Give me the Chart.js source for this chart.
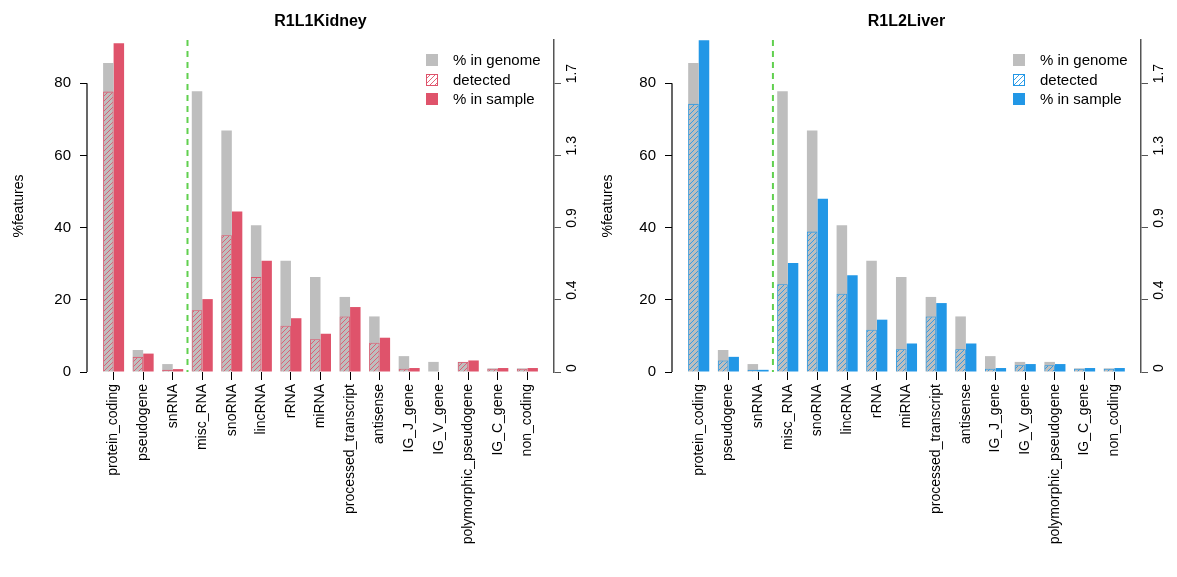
<!DOCTYPE html>
<html><head><meta charset="utf-8">
<script src="https://cdn.jsdelivr.net/npm/chart.js@4"></script>
<style>body{margin:0;background:#fff;width:1177px;height:577px;position:relative;overflow:hidden}
.p{position:absolute;top:0;height:577px}</style></head>
<body>
<div class="p" style="left:0;width:589px"><canvas id="c1" width="589" height="577"></canvas></div>
<div class="p" style="left:589px;width:588px"><canvas id="c2" width="588" height="577"></canvas></div>
<script>
const categories = ["protein_coding","pseudogene","snRNA","misc_RNA","snoRNA","lincRNA","rRNA","miRNA","processed_transcript","antisense","IG_J_gene","IG_V_gene","polymorphic_pseudogene","IG_C_gene","non_coding"];
const genomePct = [85.6,6.1,2.2,77.8,66.9,40.7,30.8,26.3,20.8,15.4,4.4,2.8,2.8,1.0,1.0];
const kidneyDetected = [77.7,4.2,0.6,17.1,37.9,26.3,12.8,9.1,15.4,8.1,0.9,0,2.8,0.9,0.9];
const kidneySample = [91.1,5.1,0.8,20.2,44.5,30.8,14.9,10.6,18.0,9.5,1.1,0,3.2,1.1,1.1];
const liverDetected = [74.3,3.2,0.6,24.3,38.9,21.7,11.7,6.3,15.4,6.3,0.9,1.9,1.9,0.9,0.9];
const liverSample = [91.9,4.2,0.6,30.2,48.0,26.8,14.5,7.9,19.1,7.9,1.1,2.2,2.2,1.1,1.1];
const leftTicks = [0,20,40,60,80];
const rightTickLabels = ["0","0.4","0.9","1.3","1.7"];
const legendLabels = ["% in genome","detected","% in sample"];

const FONT = "'Liberation Sans', Arial, sans-serif";
function hatch(color){
  const c=document.createElement('canvas');c.width=5;c.height=5;
  const g=c.getContext('2d');g.strokeStyle=color;g.lineWidth=0.9;
  g.beginPath();g.moveTo(-1,6);g.lineTo(6,-1);g.moveTo(-1,1);g.lineTo(1,-1);g.moveTo(4,6);g.lineTo(6,4);g.stroke();
  return g.createPattern(c,'repeat');
}
const pts = arr => arr.map((v,i)=>({x:i,y:v}));

function make(id,title,det,samp,color,leftW,rightW){
  const pat=hatch(color);
  const ctx=document.getElementById(id);
  new Chart(ctx,{
    type:'bar',
    data:{datasets:[
      {label:legendLabels[0],data:pts(genomePct),backgroundColor:'#BEBEBE',stack:'g',order:1,borderWidth:0},
      {label:legendLabels[1],data:pts(det),backgroundColor:pat,borderColor:color,borderWidth:0.8,stack:'g',order:0},
      {label:legendLabels[2],data:pts(samp),backgroundColor:color,stack:'s',order:2,borderWidth:0}
    ]},
    options:{
      responsive:false,animation:false,devicePixelRatio:1,
      layout:{padding:{top:40,left:0,right:0,bottom:0}},
      categoryPercentage:0.71,barPercentage:1,
      plugins:{legend:{display:false},title:{display:false},tooltip:{enabled:false}},
      scales:{
        x:{type:'linear',min:-0.9,max:14.9,offset:false,
          afterBuildTicks:s=>{s.ticks=categories.map((c,i)=>({value:i}));},
          afterFit:s=>{s.height=205;},
          grid:{display:true,offset:false,drawOnChartArea:false,drawTicks:true,tickLength:8,color:'#000'},
          border:{display:false},
          ticks:{minRotation:90,maxRotation:90,autoSkip:false,color:'#000',font:{family:FONT,size:14},padding:4,
            callback:v=>categories[v]}},
        y:{position:'left',min:0,max:92,stacked:false,
          afterBuildTicks:s=>{s.ticks=leftTicks.map(v=>({value:v}));},
          afterFit:s=>{s.width=leftW;},
          grid:{display:true,drawOnChartArea:false,tickLength:7,color:'#000'},
          border:{display:false},
          title:{display:true,text:'%features',color:'#000',font:{family:FONT,size:14},padding:{top:11,bottom:0}},
          ticks:{color:'#000',font:{family:FONT,size:15},padding:9}},
        y2:{position:'right',min:0,max:92,
          afterBuildTicks:s=>{s.ticks=leftTicks.map(v=>({value:v}));},
          afterFit:s=>{s.width=rightW;},
          grid:{display:true,drawOnChartArea:false,tickLength:7,color:'#555'},
          border:{display:true,color:'#555',width:1.5},
          ticks:{color:'#000',font:{family:FONT,size:14},padding:11,minRotation:90,maxRotation:90,
            callback:(v,i)=>rightTickLabels[i]}}
      }
    },
    plugins:[{
      id:'extras',
      afterDatasetsDraw(ch){
        const c=ch.ctx,a=ch.chartArea,x=ch.scales.x,y=ch.scales.y;
        c.save();
        c.strokeStyle='#000';c.lineWidth=1.2;c.beginPath();
        c.moveTo(a.left,y.getPixelForValue(0));c.lineTo(a.left,y.getPixelForValue(80));c.stroke();
        c.strokeStyle='#61D04F';c.lineWidth=2;c.setLineDash([6,5]);c.beginPath();
        const xs=x.getPixelForValue(2.5);c.moveTo(xs,a.top);c.lineTo(xs,a.bottom);c.stroke();
        c.setLineDash([]);
        c.fillStyle='#000';c.font='bold 16px '+FONT;c.textAlign='center';c.textBaseline='middle';
        c.fillText(title,(a.left+a.right)/2,22);
        c.font='15px '+FONT;c.textAlign='left';
        const bx=a.right-128, rows=[60,80,99];
        ch.data.datasets.forEach((d,i)=>{
          const yy=rows[i];
          if(i===1){c.fillStyle='#fff';c.fillRect(bx,yy-6,12,12);c.fillStyle=pat;c.fillRect(bx,yy-6,12,12);
            c.strokeStyle=color;c.lineWidth=1;c.strokeRect(bx+0.5,yy-5.5,11,11);}
          else{c.fillStyle=d.backgroundColor;c.fillRect(bx,yy-6,12,12);}
          c.fillStyle='#000';c.fillText(d.label,bx+27,yy+1);
        });
        c.restore();
      }
    }]
  });
}
make('c1','R1L1Kidney',kidneyDetected,kidneySample,'#DF536B',87,35);
make('c2','R1L2Liver',liverDetected,liverSample,'#2297E6',83,36);
</script></body></html>
